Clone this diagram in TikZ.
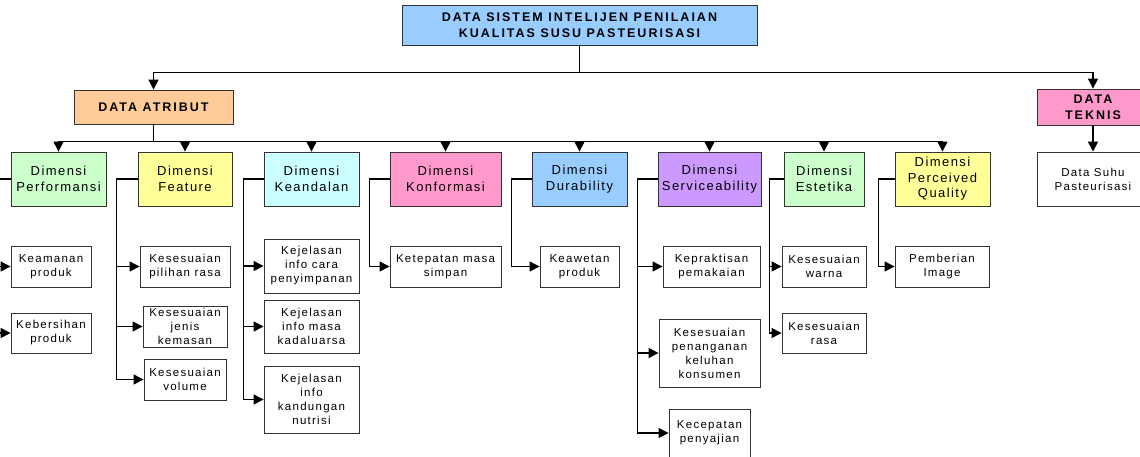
\documentclass[tikz,border=0pt]{standalone}
\usepackage{fontspec}
\setmainfont{Liberation Sans}[LetterSpace=11]
\newfontfamily\headfont{Liberation Sans}[LetterSpace=16]
\usetikzlibrary{arrows.meta}

\definecolor{cblue}{HTML}{99CCFF}
\definecolor{corange}{HTML}{FFCC99}
\definecolor{cpink}{HTML}{FF99CC}
\definecolor{cgreen}{HTML}{CCFFCC}
\definecolor{cyellow}{HTML}{FFFF99}
\definecolor{ccyan}{HTML}{CCFFFF}
\definecolor{cpurple}{HTML}{CC99FF}

\tikzset{
  box/.style={draw=black!80, line width=0.9pt, fill=white, align=center, inner sep=0pt,
    font=\fontsize{11.5}{14}\selectfont},
  dimbox/.style={box, minimum height=54pt, font=\fontsize{13}{15.5}\selectfont},
  headbox/.style={box, font=\headfont\bfseries\fontsize{12.5}{16}\selectfont},
  conn/.style={line width=1.3pt},
  arr/.style={conn, -{Triangle[width=10pt,length=10pt]}},
}

\begin{document}
\begin{tikzpicture}[x=1pt,y=-1pt]
  \clip (0,0) rectangle (1140,456);
  \fill[white] (0,0) rectangle (1140,456);

  % top levels
  \node[headbox, fill=cblue, minimum width=355pt, minimum height=40pt] (top) at (579.5,25)
    {DATA SISTEM INTELIJEN PENILAIAN\\KUALITAS SUSU PASTEURISASI};
  \node[headbox, fill=corange, minimum width=159pt, minimum height=34pt] (atribut) at (153.5,107) {DATA ATRIBUT};
  \node[headbox, fill=cpink, minimum width=112pt, minimum height=36pt] (teknis) at (1093,107) {DATA\\TEKNIS};
  \node[box, minimum width=112pt, minimum height=54pt] (suhu) at (1093,179) {Data Suhu\\Pasteurisasi};

  % dimensi
  \node[dimbox, fill=cgreen, minimum width=95pt] (perf) at (58.5,179) {Dimensi\\Performansi};
  \node[dimbox, fill=cyellow, minimum width=94pt] (feat) at (185,179) {Dimensi\\Feature};
  \node[dimbox, fill=ccyan, minimum width=95pt] (kean) at (311.5,179) {Dimensi\\Keandalan};
  \node[dimbox, fill=cpink, minimum width=111pt] (konf) at (445.5,179) {Dimensi\\Konformasi};
  \node[dimbox, fill=cblue, minimum width=95pt] (dura) at (579.5,179) {Dimensi\\Durability};
  \node[dimbox, fill=cpurple, minimum width=103pt] (serv) at (709.5,179) {Dimensi\\Serviceability};
  \node[dimbox, fill=cgreen, minimum width=80pt] (este) at (824,179) {Dimensi\\Estetika};
  \node[dimbox, fill=cyellow, minimum width=95pt] (perc) at (942.5,179) {Dimensi\\Perceived\\Quality};

  % atribut
  \node[box, minimum width=80pt, minimum height=41pt] (keam) at (51,266.5) {Keamanan\\produk};
  \node[box, minimum width=80pt, minimum height=40pt] (kebe) at (51,333) {Kebersihan\\produk};
  \node[box, minimum width=90pt, minimum height=41pt] (pili) at (185,266.5) {Kesesuaian\\pilihan rasa};
  \node[box, minimum width=84pt, minimum height=41pt] (jeni) at (185,326.5) {Kesesuaian\\jenis\\kemasan};
  \node[box, minimum width=82pt, minimum height=41pt] (volu) at (185,379.5) {Kesesuaian\\volume};
  \node[box, minimum width=95pt, minimum height=54pt] (cara) at (311.5,266) {Kejelasan\\info cara\\penyimpanan};
  \node[box, minimum width=95pt, minimum height=53pt] (masa) at (311.5,326.5) {Kejelasan\\info masa\\kadaluarsa};
  \node[box, minimum width=95pt, minimum height=67pt] (nutr) at (311.5,399.5) {Kejelasan\\info\\kandungan\\nutrisi};
  \node[box, minimum width=111pt, minimum height=41pt] (simp) at (445.5,266.5) {Ketepatan masa\\simpan};
  \node[box, minimum width=79pt, minimum height=41pt] (awet) at (579.5,266.5) {Keawetan\\produk};
  \node[box, minimum width=97pt, minimum height=41pt] (prak) at (711.5,266.5) {Kepraktisan\\pemakaian};
  \node[box, minimum width=101pt, minimum height=68pt] (kelu) at (709.5,353) {Kesesuaian\\penanganan\\keluhan\\konsumen};
  \node[box, minimum width=81pt, minimum height=48pt] (cepa) at (709.5,433) {Kecepatan\\penyajian};
  \node[box, minimum width=84pt, minimum height=41pt] (warn) at (824,266.5) {Kesesuaian\\warna};
  \node[box, minimum width=84pt, minimum height=40pt] (rasa) at (824,333) {Kesesuaian\\rasa};
  \node[box, minimum width=94pt, minimum height=41pt] (imag) at (942,266.5) {Pemberian\\Image};

  % connectors
  \draw[conn] (top.south) -- ++(0,27) coordinate (hub);
  \draw[arr] (hub) -| (atribut.north);
  \draw[arr] (hub) -| (teknis.north);
  \draw[arr] (teknis) -- (suhu);

  \draw[conn] (atribut.south) -- ++(0,17) coordinate (bus);
  \foreach \d in {perf,feat,kean,konf,dura,serv,este,perc}
    \draw[arr] (bus) -| (\d.north);

  \foreach \c in {keam,kebe}
    \draw[arr] (perf.west) -- ++(-20,0) |- (\c.west);
  \foreach \c in {pili,jeni,volu}
    \draw[arr] (feat.west) -- ++(-21,0) |- (\c.west);
  \foreach \c in {cara,masa,nutr}
    \draw[arr] (kean.west) -- ++(-20,0) |- (\c.west);
  \draw[arr] (konf.west) -- ++(-20,0) |- (simp.west);
  \draw[arr] (dura.west) -- ++(-20,0) |- (awet.west);
  \foreach \c in {prak,kelu,cepa}
    \draw[arr] (serv.west) -- ++(-20,0) |- (\c.west);
  \foreach \c in {warn,rasa}
    \draw[arr] (este.west) -- ++(-14,0) |- (\c.west);
  \draw[arr] (perc.west) -- ++(-16,0) |- (imag.west);
\end{tikzpicture}
\end{document}
